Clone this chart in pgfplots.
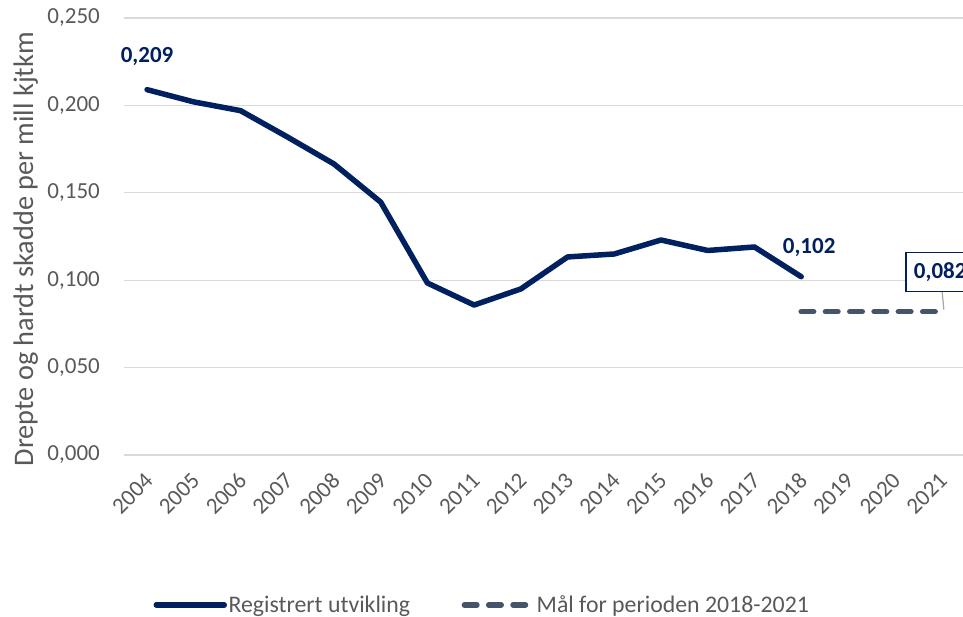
\documentclass[border=0pt]{standalone}
\usepackage{fontspec}
\setmainfont{Carlito}
\usepackage{pgfplots}
\pgfplotsset{compat=1.18}
\definecolor{navy}{HTML}{002060}
\definecolor{dashc}{HTML}{44546A}
\definecolor{gridc}{HTML}{D9D9D9}
\definecolor{tickc}{HTML}{595959}
\definecolor{leadc}{HTML}{A6A6A6}
\begin{document}
\begin{tikzpicture}
\begin{axis}[
  at={(123.7bp,162bp)}, anchor=south west,
  scale only axis, width=841bp, height=437bp,
  xmin=2003.5, xmax=2021.5, ymin=0, ymax=0.25,
  xtick={2004,2005,...,2021},
  ytick={0,0.05,0.1,0.15,0.2,0.25},
  ymajorgrids, grid style={color=gridc, line width=1.3bp},
  axis line style={draw=none},
  major tick length=0pt,
  clip=false,
  /pgf/number format/assume math mode=true,
  tick label style={font=\fontsize{23bp}{27bp}\selectfont, text=tickc},
  xticklabel style={/pgf/number format/1000 sep={}, xshift=2bp, yshift=-22bp, rotate=45, anchor=east, inner sep=0pt},
  yticklabel style={/pgf/number format/fixed, /pgf/number format/fixed zerofill, /pgf/number format/precision=3, /pgf/number format/use comma, anchor=east, inner sep=0pt, xshift=-23.7bp},
  ylabel={Drepte og hardt skadde per mill kjtkm},
  ylabel style={at={(axis description cs:-0.1165,0.471)}, anchor=center, font=\fontsize{28.3bp}{32bp}\selectfont, text=tickc},
  legend columns=2,
  legend style={at={(0.426,-0.343)}, anchor=center, draw=none, fill=none,
    font=\fontsize{23.8bp}{28bp}\selectfont, text=tickc,
    nodes={inner sep=1.5bp},
    /tikz/every even column/.append style={column sep=50bp}},
  legend image code/.code={\draw[#1] (0bp,0bp) -- (68bp,0bp);},
]
\addplot[navy, line width=5.5bp, line join=round, line cap=round] coordinates {
(2004,0.209)(2005,0.202)(2006,0.197)(2007,0.182)(2008,0.1665)(2009,0.1447)
(2010,0.0984)(2011,0.0858)(2012,0.095)(2013,0.1133)(2014,0.115)(2015,0.123)
(2016,0.117)(2017,0.119)(2018,0.102)};
\addlegendentry{Registrert utvikling}
\addplot[dashc, line width=5.5bp, line cap=round, dash pattern=on 12.5bp off 11.8bp] coordinates {
(2018,0.082)(2021,0.082)};
\addlegendentry{Mål for perioden 2018-2021}
\node[font=\bfseries\fontsize{23bp}{27bp}\selectfont, text=navy] at ([yshift=33bp]axis cs:2004,0.209) {0,209};
\node[font=\bfseries\fontsize{23bp}{27bp}\selectfont, text=navy] at ([xshift=8bp,yshift=29bp]axis cs:2018,0.102) {0,102};
\draw[leadc, line width=1.2bp] ([xshift=0.7bp,yshift=21bp]axis cs:2021,0.082) -- ([xshift=2.5bp,yshift=2bp]axis cs:2021,0.082);
\node[draw=navy, line width=1.2bp, fill=white, anchor=north west, inner xsep=8bp, inner ysep=0pt, minimum height=39bp, text=navy, font=\bfseries\fontsize{23bp}{27bp}\selectfont] at ([xshift=-36bp,yshift=60bp]axis cs:2021,0.082) {0,082};
\end{axis}
\pgfresetboundingbox
\path[use as bounding box] (0,0) rectangle (963bp,617bp);
\end{tikzpicture}
\end{document}
